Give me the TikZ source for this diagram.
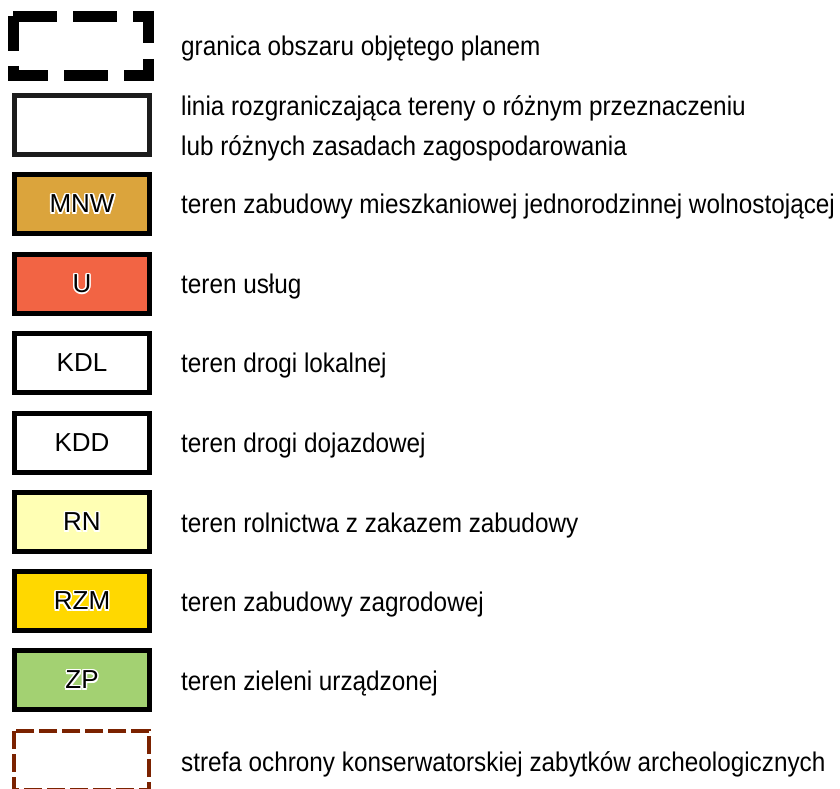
\documentclass[tikz,border=0pt]{standalone}
\usepackage{fontspec}
\setmainfont{Liberation Sans}[FakeStretch=0.9]
\newfontfamily\codefont{Liberation Sans}
\definecolor{cMNW}{HTML}{DBA43C}
\definecolor{cU}{HTML}{F26444}
\definecolor{cRN}{HTML}{FFFFB4}
\definecolor{cRZM}{HTML}{FFD800}
\definecolor{cZP}{HTML}{A3D172}
\definecolor{cArch}{HTML}{7B2200}
\definecolor{cLine}{HTML}{1C1C1C}
\tikzset{
  lab/.style={anchor=base west, inner sep=0pt, font=\fontsize{27}{32}\selectfont},
  codebox/.style={draw=black, line width=5pt, minimum width=135pt, minimum height=59pt, inner sep=0pt},
  codetxt/.style={inner sep=0pt, font=\codefont\fontsize{26}{30}\selectfont},
  bdash/.style={draw=black, line width=11pt}
}
\newcommand\codelabel[2]{%
  \foreach \ang in {0,45,...,315}{\node[codetxt, text=white, shift={(\ang:1.6)}] at (#1) {#2};}
  \node[codetxt] at (#1) {#2};}
\begin{document}
\begin{tikzpicture}[x=1pt,y=-1pt]
\useasboundingbox (0,0) rectangle (840,789);
\fill[white] (0,0) rectangle (840,789);
% boundary of plan area (heavy dashed)
\coordinate (p1) at (13,16.5);
\coordinate (p2) at (154,16.5);
\coordinate (p3) at (8,75.5);
\coordinate (p4) at (154,75.5);
\coordinate (p5) at (13.5,16);
\coordinate (p6) at (13.5,81);
\coordinate (p7) at (148.5,11);
\coordinate (p8) at (148.5,81);
\draw[bdash, dash pattern=on 44pt off 16pt] (p1) -- (p2);
\draw[bdash, dash pattern=on 44pt off 16pt, dash phase=4pt] (p3) -- (p4);
\draw[bdash, dash pattern=on 35pt off 15pt] (p5) -- (p6);
\draw[bdash, dash pattern=on 32pt off 16pt] (p7) -- (p8);
% dividing line
\node[draw=cLine, line width=5pt, minimum width=135pt, minimum height=59pt, inner sep=0pt] (bLine) at (82,125) {};
% coded boxes
\node[codebox, fill=cMNW] (bMNW) at (82,204) {};
\node[codebox, fill=cU] (bU) at (82,284) {};
\node[codebox, fill=white] (bKDL) at (82,363) {};
\node[codebox, fill=white] (bKDD) at (82,443) {};
\node[codebox, fill=cRN] (bRN) at (82,522) {};
\node[codebox, fill=cRZM] (bRZM) at (82,601) {};
\node[codebox, fill=cZP] (bZP) at (82,680) {};
\codelabel{bMNW}{MNW}
\codelabel{bU}{U}
\codelabel{bKDL}{KDL}
\codelabel{bKDD}{KDD}
\codelabel{bRN}{RN}
\codelabel{bRZM}{RZM}
\codelabel{bZP}{ZP}
% archaeological zone
\coordinate (a1) at (14,731);
\coordinate (a2) at (149,790);
\draw[draw=cArch, line width=3.5pt, dash pattern=on 18pt off 5pt] (a1) rectangle (a2);
% labels
\node[lab] (t1) at (181,56) {granica obszaru objętego planem};
\node[lab] (t2) at (181,116) {linia rozgraniczająca tereny o różnym przeznaczeniu};
\node[lab] (t2b) at (181,155) {lub różnych zasadach zagospodarowania};
\node[lab] (t3) at (181,213) {teren zabudowy mieszkaniowej jednorodzinnej wolnostojącej};
\node[lab] (t4) at (181,293) {teren usług};
\node[lab] (t5) at (181,372) {teren drogi lokalnej};
\node[lab] (t6) at (181,452) {teren drogi dojazdowej};
\node[lab] (t7) at (181,532) {teren rolnictwa z zakazem zabudowy};
\node[lab] (t8) at (181,611) {teren zabudowy zagrodowej};
\node[lab] (t9) at (181,690) {teren zieleni urządzonej};
\node[lab] (t10) at (181,771) {strefa ochrony konserwatorskiej zabytków archeologicznych};
\end{tikzpicture}
\end{document}
